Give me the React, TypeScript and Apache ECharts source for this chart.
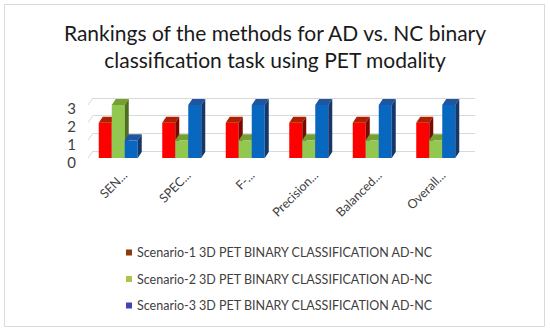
import React, { useEffect, useRef } from "react";
import * as echarts from "echarts";

const categories = ["SEN...", "SPEC...", "F-...", "Precision...", "Balanced...", "Overall..."];
const seriesNames = [
  "Scenario-1 3D PET BINARY CLASSIFICATION AD-NC",
  "Scenario-2 3D PET BINARY CLASSIFICATION AD-NC",
  "Scenario-3 3D PET BINARY CLASSIFICATION AD-NC",
];
const scenario1 = [2, 2, 2, 2, 2, 2];
const scenario2 = [3, 1, 1, 1, 1, 1];
const scenario3 = [1, 3, 3, 3, 3, 3];
const yTicks = [0, 1, 2, 3];

const legendColors = ["#8B3A0E", "#A9C64A", "#4444B0"];
const faceColors = [
  { front: "#FF0000", top: "#B02000", side: "#7A0A00" },
  { front: "#92C850", top: "#74A033", side: "#4F6E1E" },
  { front: "#0868C0", top: "#2055A0", side: "#17366A" },
];

const DX = 4;
const DY = 6;
const BW = 13;

function makeBarSeries(idx: number, values: number[]) {
  const c = faceColors[idx];
  return {
    type: "custom",
    name: seriesNames[idx],
    xAxisIndex: 0,
    yAxisIndex: 0,
    itemStyle: { color: legendColors[idx] },
    data: values.map((v, i) => [i, v]),
    encode: { x: 0, y: 1 },
    renderItem: (params: any, api: any) => {
      const cat = api.value(0);
      const val = api.value(1);
      const top = api.coord([cat, val]);
      const base = api.coord([cat, 0]);
      const x = top[0] - 21 + idx * BW;
      const yT = top[1];
      const yB = base[1];
      return {
        type: "group",
        children: [
          {
            type: "rect",
            shape: { x, y: yT, width: BW, height: yB - yT },
            style: { fill: c.front },
          },
          {
            type: "polygon",
            shape: {
              points: [
                [x, yT],
                [x + DX, yT - DY],
                [x + BW + DX, yT - DY],
                [x + BW, yT],
              ],
            },
            style: { fill: c.top },
          },
          {
            type: "polygon",
            shape: {
              points: [
                [x + BW, yT],
                [x + BW + DX, yT - DY],
                [x + BW + DX, yB - DY],
                [x + BW, yB],
              ],
            },
            style: { fill: c.side },
          },
        ],
      };
    },
  };
}

export default function App() {
  const ref = useRef<HTMLDivElement>(null);
  useEffect(() => {
    if (!ref.current) return;
    const chart = echarts.init(ref.current, undefined, { renderer: "svg" });
    const textColor = "#404040";
    const font = "Lato";
    chart.setOption({
      animation: false,
      backgroundColor: "#ffffff",
      title: {
        text: "Rankings of the methods for AD vs. NC binary\nclassification task using PET modality",
        left: "center",
        top: 14,
        textStyle: {
          fontFamily: font,
          fontSize: 21,
          fontWeight: "normal",
          color: "#1a1a1a",
          lineHeight: 27,
        },
      },
      graphic: [
        {
          type: "rect",
          shape: { x: 4.5, y: 4.5, width: 540, height: 322 },
          style: { fill: "none", stroke: "#d9d9d9", lineWidth: 1 },
          silent: true,
        },
      ],
      legend: {
        orient: "vertical",
        left: 121,
        top: 241,
        itemWidth: 6,
        itemHeight: 6,
        itemGap: 13.5,
        icon: "rect",
        textStyle: { fontFamily: font, fontSize: 12.5, color: textColor },
        data: seriesNames,
      },
      grid: [
        { left: 88, right: 81, top: 105, height: 53 },
        { left: 93, right: 75, top: 98, height: 53 },
        { left: 88, right: 81, top: 108, height: 54 },
      ],
      xAxis: [
        {
          type: "category",
          gridIndex: 0,
          data: categories,
          axisLine: { show: false },
          axisTick: { show: false },
          axisLabel: { show: false },
        },
        {
          type: "category",
          gridIndex: 1,
          data: categories,
          axisLine: { show: false },
          axisTick: { show: false },
          axisLabel: {
            rotate: 45,
            margin: 22,
            fontFamily: font,
            fontSize: 12.5,
            color: textColor,
          },
        },
        {
          type: "category",
          gridIndex: 2,
          data: categories,
          show: false,
        },
      ],
      yAxis: [
        {
          type: "value",
          gridIndex: 0,
          min: 0,
          max: 3,
          interval: 1,
          splitLine: { show: false },
          axisLine: { show: false },
          axisTick: { show: false },
          axisLabel: { show: false },
        },
        {
          type: "value",
          gridIndex: 1,
          min: 0,
          max: 3,
          interval: 1,
          axisLine: { show: false },
          axisTick: { show: false },
          axisLabel: { show: false },
          splitLine: { show: true, lineStyle: { color: "#d9d9d9", width: 1 } },
        },
        {
          type: "value",
          gridIndex: 2,
          min: 0,
          max: 3,
          interval: 1,
          splitLine: { show: false },
          axisLine: { show: false },
          axisTick: { show: false },
          axisLabel: {
            margin: 12,
            fontFamily: font,
            fontSize: 15,
            color: textColor,
          },
        },
      ],
      series: [
        {
          type: "custom",
          xAxisIndex: 0,
          yAxisIndex: 0,
          silent: true,
          data: yTicks.map((v) => [0, v]),
          encode: { x: 0, y: 1 },
          renderItem: (params: any, api: any) => {
            const p = api.coord([0, api.value(1)]);
            const band = api.size([1, 0])[0];
            const x0 = p[0] - band / 2;
            return {
              type: "line",
              shape: { x1: x0, y1: p[1], x2: x0 + 5, y2: p[1] - 7 },
              style: { stroke: "#d9d9d9", lineWidth: 1 },
            };
          },
        },
        makeBarSeries(0, scenario1),
        makeBarSeries(1, scenario2),
        makeBarSeries(2, scenario3),
      ],
    });
    return () => chart.dispose();
  }, []);
  return (
    <div
      ref={ref}
      style={{ position: "fixed", left: 0, top: 0, width: 550, height: 334 }}
    />
  );
}
